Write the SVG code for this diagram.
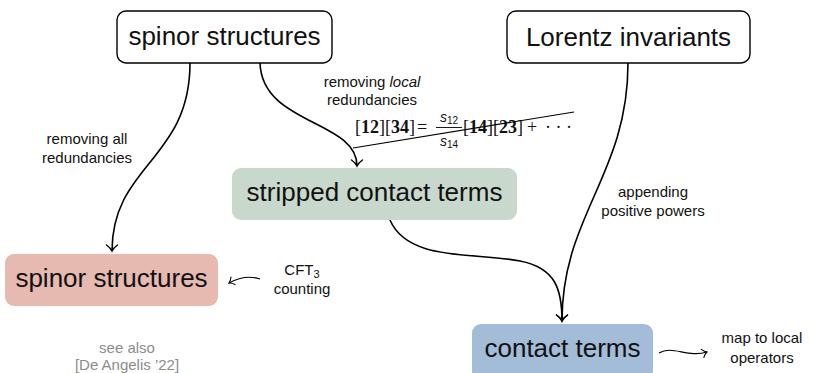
<svg xmlns="http://www.w3.org/2000/svg" width="814" height="373" viewBox="0 0 814 373">
<style>
.box{fill:#fff;stroke:#000;stroke-width:1.4}
.lbl{font-family:"Liberation Sans",Arial,sans-serif;font-size:26px;fill:#111;text-anchor:middle}
.sm{font-family:"Liberation Sans",Arial,sans-serif;font-size:15px;fill:#111;text-anchor:middle}
.gray{fill:#8c8c8c}
.math{font-family:"Liberation Serif","Times New Roman",serif;font-size:18px;fill:#111}
.mi{font-family:"Liberation Sans",Arial,sans-serif;font-style:italic;font-size:14px;fill:#111}
.edge{fill:none;stroke:#000;stroke-width:1.6}
.thin{fill:none;stroke:#000;stroke-width:1.1}
</style>
<defs>
<marker id="to" viewBox="-7 -7 9 14" refX="0" refY="0" markerWidth="9" markerHeight="14" markerUnits="userSpaceOnUse" orient="auto">
<path d="M-6,-5.5 C-3.5,-2 -1.5,-0.6 0,0 C-1.5,0.6 -3.5,2 -6,5.5" fill="none" stroke="#000" stroke-width="1.4" stroke-linecap="round"/>
</marker>
<marker id="tos" viewBox="-7 -7 9 14" refX="0" refY="0" markerWidth="7" markerHeight="11" markerUnits="userSpaceOnUse" orient="auto">
<path d="M-6,-5.5 C-3.5,-2 -1.5,-0.6 0,0 C-1.5,0.6 -3.5,2 -6,5.5" fill="none" stroke="#000" stroke-width="1.4" stroke-linecap="round"/>
</marker>
</defs>

<g id="connectors">
<path class="edge" d="M190,63 C190,160 112,165 112,251" marker-end="url(#to)"/>
<path class="edge" d="M260,63 C262,125 357,120 357,166" marker-end="url(#to)"/>
<path class="edge" d="M390,220 C408,262 475,252 520,261 C556,268 562,290 562,321" marker-end="url(#to)"/>
<path class="edge" d="M628,63 C628,175 562,215 562,321" marker-end="url(#to)"/>
<path class="thin" d="M260,279 C248,275 238,278 229,283" marker-end="url(#tos)"/>
<path class="thin" d="M659,353 C672,345 688,358 707,352" marker-end="url(#tos)"/>
</g>

<g id="n-spinor-top">
<rect class="box" x="117" y="11" width="215" height="52" rx="9"/>
<text class="lbl" x="224.5" y="45">spinor structures</text>
</g>

<g id="n-lorentz">
<rect class="box" x="507" y="11" width="243" height="52" rx="9"/>
<text class="lbl" x="628.5" y="46">Lorentz invariants</text>
</g>

<g id="n-stripped">
<rect x="232" y="168" width="285" height="52" rx="9" fill="#c9d8cc"/>
<text class="lbl" x="374.5" y="201">stripped contact terms</text>
</g>

<g id="n-spinor-bottom">
<rect x="5" y="254" width="213" height="52" rx="9" fill="#e6b9b1"/>
<text class="lbl" x="111.5" y="287">spinor structures</text>
</g>

<g id="n-contact">
<rect x="472" y="324" width="181" height="56" rx="9" fill="#a3bcd7"/>
<text class="lbl" x="562.5" y="357">contact terms</text>
</g>

<g id="labels">
<text class="sm" x="87" y="144">removing all</text>
<text class="sm" x="87" y="163">redundancies</text>

<text class="sm" x="372" y="87">removing <tspan font-style="italic">local</tspan></text>
<text class="sm" x="372" y="105">redundancies</text>

<text class="sm" x="653" y="197">appending</text>
<text class="sm" x="653" y="216">positive powers</text>

<text class="sm" x="302" y="275">CFT<tspan font-size="11" dy="3">3</tspan></text>
<text class="sm" x="302" y="294">counting</text>

<text class="sm gray" x="127" y="353">see also</text>
<text class="sm gray" x="127" y="370">[De Angelis ’22]</text>

<text class="sm" x="762" y="343" font-size="14.5">map to local</text>
<text class="sm" x="762" y="363" font-size="14.5">operators</text>
</g>

<g id="formula">
<text class="math" x="355" y="133">[<tspan font-weight="bold">12</tspan>][<tspan font-weight="bold">34</tspan>]</text>
<text class="math" x="417" y="133">=</text>
<text class="mi" x="440" y="122">s<tspan font-size="10" font-style="normal" dy="2">12</tspan></text>
<line x1="436" y1="127.5" x2="462" y2="127.5" stroke="#000" stroke-width="0.9"/>
<text class="mi" x="440" y="146">s<tspan font-size="10" font-style="normal" dy="2">14</tspan></text>
<text class="math" x="463" y="133">[<tspan font-weight="bold">14</tspan>][<tspan font-weight="bold">23</tspan>]</text>
<text class="math" x="527" y="133">+</text>
<text class="math" x="545" y="133">· · ·</text>
<line x1="353" y1="148" x2="574" y2="112" stroke="#000" stroke-width="1.1"/>
</g>
</svg>
